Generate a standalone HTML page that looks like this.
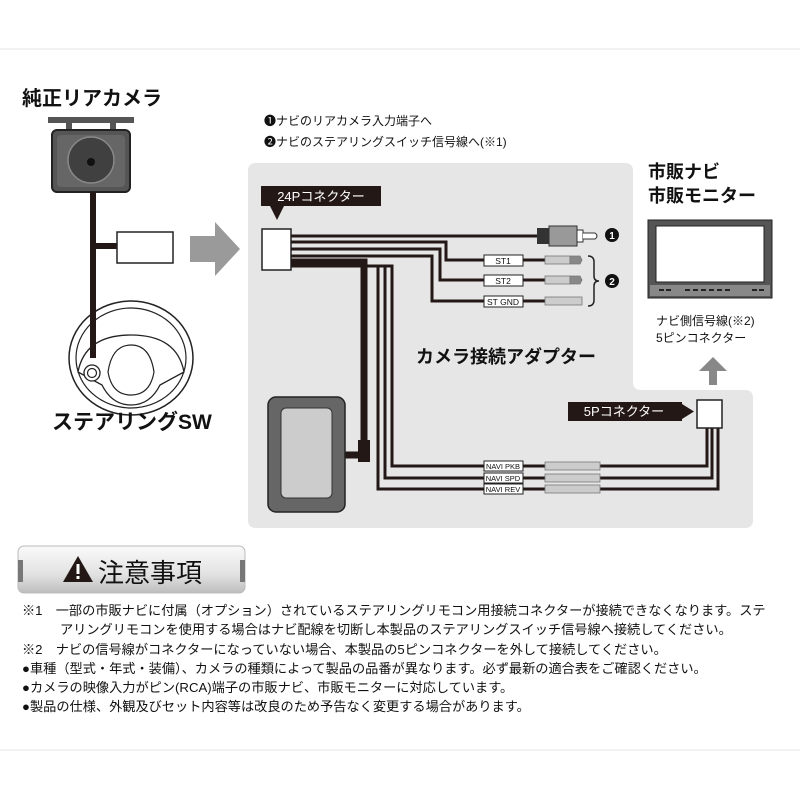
<!DOCTYPE html>
<html><head><meta charset="utf-8">
<style>
html,body{margin:0;padding:0;background:#fff;}
body{width:800px;height:800px;position:relative;overflow:hidden;font-family:"Liberation Sans","Noto Sans CJK JP",sans-serif;color:#111;}
svg{position:absolute;left:0;top:0;}
.t{position:absolute;white-space:nowrap;}
.n{position:absolute;left:22px;font-size:13.2px;white-space:nowrap;color:#111;}
</style></head><body>
<svg width="800" height="800" viewBox="0 0 800 800" font-family="Liberation Sans, Noto Sans CJK JP, sans-serif">
<line x1="0" y1="49" x2="800" y2="49" stroke="#e6e6e6"/>
<line x1="0" y1="750" x2="800" y2="750" stroke="#e6e6e6"/>
<path d="M256,163 H625 Q633,163 633,171 V382 Q633,390 641,390 H745 Q753,390 753,398 V520 Q753,528 745,528 H256 Q248,528 248,520 V171 Q248,163 256,163 Z" fill="#e6e6e6"/>
<rect x="48" y="117" width="86" height="6" fill="#555"/>
<rect x="66" y="121" width="6" height="10" fill="#555"/>
<rect x="110" y="121" width="6" height="10" fill="#555"/>
<rect x="52" y="130" width="78" height="62" rx="5" fill="#555" stroke="#222" stroke-width="2"/>
<rect x="57" y="135" width="68" height="52" rx="4" fill="#666"/>
<circle cx="91" cy="160" r="23" fill="#404040" stroke="#888" stroke-width="1.5"/>
<circle cx="91" cy="162" r="4" fill="#111"/>
<rect x="90" y="192" width="6" height="170" fill="#231815"/>
<rect x="93" y="243" width="25" height="6" fill="#231815"/>
<rect x="117" y="232" width="56" height="31" fill="#fff" stroke="#222" stroke-width="1.5"/>
<path d="M190,236 H215 V222 L240,249 L215,276 V262 H190 Z" fill="#9a9a9a"/>
<ellipse cx="131" cy="358" rx="62" ry="57" fill="#fff" stroke="#222" stroke-width="1.5"/>
<ellipse cx="131" cy="358" rx="55" ry="50" fill="none" stroke="#222" stroke-width="1.2"/>
<path d="M78,372 Q85,335 131,335 Q177,335 184,372 L160,385 Q150,405 131,405 Q112,405 102,385 Z" fill="#fff" stroke="#222" stroke-width="1.3"/>
<path d="M108,372 Q112,345 131,345 Q150,345 154,372 Q150,395 131,395 Q112,395 108,372 Z" fill="#fff" stroke="#222" stroke-width="1.2"/>
<rect x="90" y="300" width="6" height="58" fill="#231815"/>
<circle cx="92" cy="373" r="8" fill="#fff" stroke="#222" stroke-width="1.3"/>
<circle cx="92" cy="373" r="4.5" fill="none" stroke="#222" stroke-width="1.2"/>
<rect x="261" y="186" width="120" height="20" fill="#231815"/>
<text x="321" y="201" font-size="13" fill="#fff" text-anchor="middle">24Pコネクター</text>
<path d="M270,206 L284,206 L277,220 Z" fill="#231815"/>
<rect x="262" y="229" width="29" height="41" fill="#fff" stroke="#222" stroke-width="1.5"/>
<g fill="none" stroke="#231815" stroke-width="3">
<path d="M291,236 H540"/>
<path d="M291,242 H446 V260 H484"/>
<path d="M291,249 H440 V280 H484"/>
<path d="M291,256 H432 V301 H484"/>
<path d="M523,260 H545 M523,280 H545 M523,301 H545"/>
<path d="M291,266 H392 V466 H484"/>
<path d="M291,266 H385 V478 H484"/>
<path d="M291,266 H378 V489 H484"/>
<path d="M523,466 H545 M523,478 H545 M523,489 H545"/>
<path d="M600,466 H707 V428 M600,478 H712 V428 M600,489 H718 V428"/>
</g>
<path d="M291,262 H364 V455 H345" fill="none" stroke="#231815" stroke-width="7"/>
<rect x="358" y="440" width="12" height="22" fill="#231815"/>
<rect x="537" y="228" width="12" height="16" fill="#333"/>
<rect x="549" y="226" width="28" height="20" fill="#999" stroke="#333"/>
<rect x="577" y="230" width="6" height="12" fill="#fff" stroke="#333"/>
<path d="M583,233 H595 Q599,236 595,239 H583" fill="#fff" stroke="#333"/>
<circle cx="612" cy="235" r="7" fill="#111"/><text x="612" y="239" font-size="10" font-weight="bold" fill="#fff" text-anchor="middle">1</text>
<g font-size="8.5" text-anchor="middle" fill="#111">
<rect x="484" y="255" width="39" height="11" fill="#fff" stroke="#222"/><text x="503" y="264">ST1</text>
<rect x="484" y="275" width="39" height="11" fill="#fff" stroke="#222"/><text x="503" y="284">ST2</text>
<rect x="484" y="296" width="39" height="11" fill="#fff" stroke="#222"/><text x="503" y="305">ST GND</text>
<rect x="484" y="461" width="39" height="10" fill="#fff" stroke="#222"/><text x="503" y="469" font-size="7.5">NAVI PKB</text>
<rect x="484" y="473" width="39" height="10" fill="#fff" stroke="#222"/><text x="503" y="481" font-size="7.5">NAVI SPD</text>
<rect x="484" y="484" width="39" height="10" fill="#fff" stroke="#222"/><text x="503" y="492" font-size="7.5">NAVI REV</text>
</g>
<g fill="#ccc" stroke="#777" stroke-width="0.8">
<rect x="545" y="256" width="25" height="8"/><path d="M570,256 H580 L582,260 L580,264 H570 Z" fill="#888"/>
<rect x="545" y="276" width="25" height="8"/><path d="M570,276 H580 L582,280 L580,284 H570 Z" fill="#888"/>
<rect x="545" y="297" width="37" height="8"/>
<rect x="545" y="462" width="55" height="8"/>
<rect x="545" y="474" width="55" height="8"/>
<rect x="545" y="485" width="55" height="8"/>
</g>
<path d="M588,256 Q594,256 594,262 V276 Q594,281 599,281 Q594,281 594,286 V300 Q594,306 588,306" fill="none" stroke="#222" stroke-width="1.5"/>
<circle cx="612" cy="281" r="7" fill="#111"/><text x="612" y="285" font-size="10" font-weight="bold" fill="#fff" text-anchor="middle">2</text>
<rect x="268" y="397" width="77" height="115" rx="8" fill="#666" stroke="#222" stroke-width="1.5"/>
<rect x="281" y="408" width="51" height="90" rx="5" fill="#ccc" stroke="#333"/>
<rect x="568" y="402" width="114" height="19" fill="#231815"/>
<path d="M682,404 L694,411.5 L682,419 Z" fill="#231815"/>
<text x="624" y="416" font-size="13" fill="#fff" text-anchor="middle">5Pコネクター</text>
<rect x="697" y="400" width="25" height="28" fill="#fff" stroke="#222" stroke-width="1.5"/>
<rect x="648" y="220" width="124" height="78" fill="#555" stroke="#222"/>
<rect x="656" y="226" width="108" height="56" fill="#fff" stroke="#222"/>
<path d="M650,285 H770 V296 H650 Z" fill="#888"/>
<g fill="#222"><rect x="659" y="289" width="5" height="2"/><rect x="666" y="289" width="5" height="2"/>
<rect x="685" y="289" width="5" height="2"/><rect x="693" y="289" width="5" height="2"/><rect x="701" y="289" width="5" height="2"/><rect x="709" y="289" width="5" height="2"/><rect x="717" y="289" width="5" height="2"/><rect x="725" y="289" width="5" height="2"/>
<rect x="752" y="289" width="5" height="2"/><rect x="759" y="289" width="5" height="2"/></g>
<path d="M709,385 V371 H699 L713,357 L727,371 H717 V385 Z" fill="#888"/>
<defs><linearGradient id="g" x1="0" y1="0" x2="0" y2="1"><stop offset="0" stop-color="#fafafa"/><stop offset="0.6" stop-color="#e2e2e2"/><stop offset="1" stop-color="#bdbdbd"/></linearGradient></defs>
<rect x="18" y="546" width="227" height="47" rx="6" fill="url(#g)" stroke="#bbb"/>
<rect x="18" y="560" width="5" height="22" fill="#777"/><rect x="240" y="560" width="5" height="22" fill="#777"/>
<path d="M78,556 L93,582 H63 Z" fill="#231815"/>
<rect x="76.5" y="564" width="3" height="10" fill="#fff"/><rect x="76.5" y="576" width="3" height="3" fill="#fff"/>
</svg>
<div class="t" style="left:22px;top:82px;font-size:20px;font-weight:bold;">純正リアカメラ</div>
<div class="t" style="left:52px;top:406px;font-size:21px;font-weight:bold;">ステアリングSW</div>
<div class="t" style="left:264px;top:112px;font-size:12px;">❶ナビのリアカメラ入力端子へ</div>
<div class="t" style="left:264px;top:133px;font-size:12px;">❷ナビのステアリングスイッチ信号線へ(※1)</div>
<div class="t" style="left:416px;top:343px;font-size:18px;font-weight:bold;">カメラ接続アダプター</div>
<div class="t" style="left:648px;top:160px;font-size:18px;font-weight:bold;line-height:24px;">市販ナビ<br>市販モニター</div>
<div class="t" style="left:656px;top:313px;font-size:12px;line-height:17px;">ナビ側信号線(※2)<br>5ピンコネクター</div>
<div class="t" style="left:98px;top:553px;font-size:26px;">注意事項</div>
<div class="n" style="top:600px;">※1　一部の市販ナビに付属（オプション）されているステアリングリモコン用接続コネクターが接続できなくなります。ステ</div>
<div class="n" style="top:619px;left:60px;">アリングリモコンを使用する場合はナビ配線を切断し本製品のステアリングスイッチ信号線へ接続してください。</div>
<div class="n" style="top:639px;">※2　ナビの信号線がコネクターになっていない場合、本製品の5ピンコネクターを外して接続してください。</div>
<div class="n" style="top:658px;">●車種（型式・年式・装備）、カメラの種類によって製品の品番が異なります。必ず最新の適合表をご確認ください。</div>
<div class="n" style="top:677px;">●カメラの映像入力がピン(RCA)端子の市販ナビ、市販モニターに対応しています。</div>
<div class="n" style="top:696px;">●製品の仕様、外観及びセット内容等は改良のため予告なく変更する場合があります。</div>
</body></html>
